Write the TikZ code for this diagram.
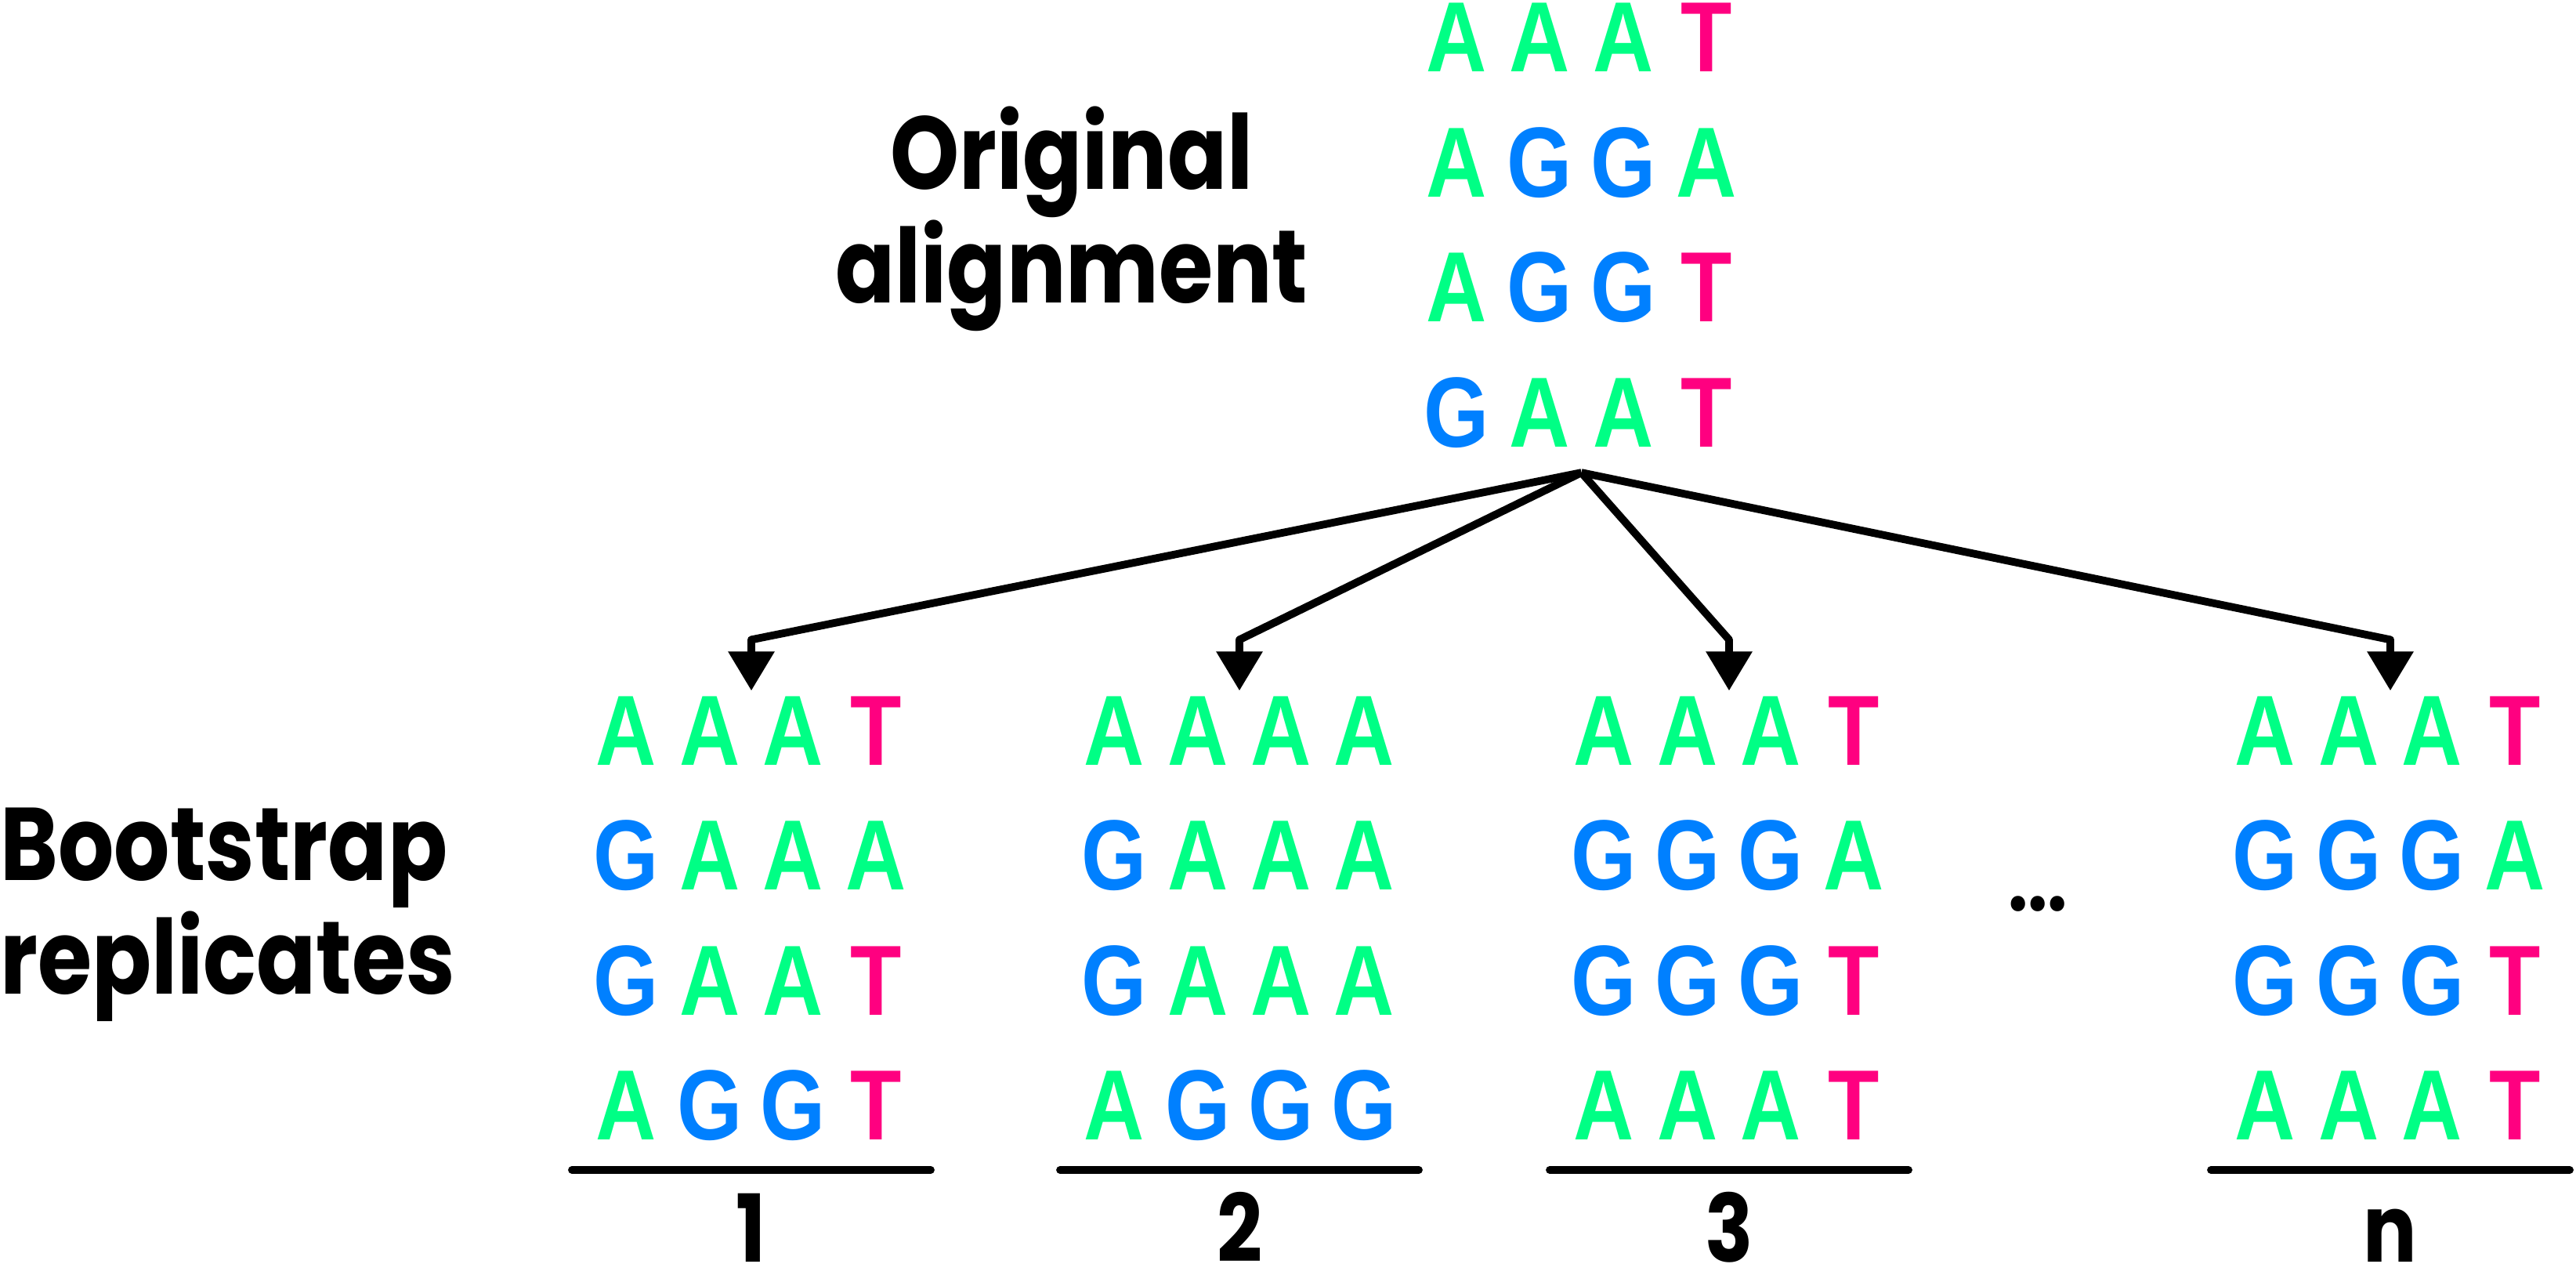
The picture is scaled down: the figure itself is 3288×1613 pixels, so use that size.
\documentclass[tikz,border=0pt]{standalone}
\usepackage{fontspec}
\usepackage{tikz}
\usetikzlibrary{arrows.meta,matrix}
\newfontfamily\seqfont{Liberation Sans}[FakeStretch=0.84]
\newfontfamily\headfont{Poppins}[FakeStretch=0.85]
\definecolor{baseA}{RGB}{0,255,133}
\definecolor{baseG}{RGB}{0,128,255}
\definecolor{baseT}{RGB}{255,0,128}
\newcommand{\bA}{\textcolor{baseA}{A}}
\newcommand{\bG}{\textcolor{baseG}{G}}
\newcommand{\bT}{\textcolor{baseT}{T}}
\tikzset{
  nucleotide/.style={inner sep=0pt,minimum width=1.063cm,text height=0.91cm,text depth=0pt,
    font=\seqfont\bfseries\fontsize{36.2pt}{36.2pt}\selectfont},
  seqblock/.style={matrix of nodes,inner sep=0pt,column sep=0pt,row sep=0.685cm,
    nodes={nucleotide}},
  headlabel/.style={font=\headfont\bfseries\fontsize{37.5pt}{36.7pt}\selectfont,inner sep=0pt},
  replabel/.style={font=\headfont\bfseries\fontsize{34pt}{34pt}\selectfont,inner sep=0pt,anchor=base},
  branch/.style={-{Triangle[length=5mm,width=5.7mm]},line width=2.8pt,line join=round,
    shorten >=0.3mm},
  rule/.style={line width=2.8pt,line cap=round}
}

\begin{document}
\begin{tikzpicture}[x=0.01cm,y=-0.01cm]
  \fill[white] (0,0) rectangle (3288,1613);
  \useasboundingbox (0,0) rectangle (3288,1613);

  % original alignment
  \matrix[seqblock] (orig) at (2018.5,285.5) {
    \bA & \bA & \bA & \bT \\
    \bA & \bG & \bG & \bA \\
    \bA & \bG & \bG & \bT \\
    \bG & \bA & \bA & \bT \\
  };
  \node[headlabel,align=center,anchor=base] (origlabel) at (1368,387) {Original\\alignment};

  % bootstrap replicates
  \matrix[seqblock] (rep1) at (959,1170) {
    \bA & \bA & \bA & \bT \\
    \bG & \bA & \bA & \bA \\
    \bG & \bA & \bA & \bT \\
    \bA & \bG & \bG & \bT \\
  };
  \matrix[seqblock] (rep2) at (1582,1170) {
    \bA & \bA & \bA & \bA \\
    \bG & \bA & \bA & \bA \\
    \bG & \bA & \bA & \bA \\
    \bA & \bG & \bG & \bG \\
  };
  \matrix[seqblock] (rep3) at (2207,1170) {
    \bA & \bA & \bA & \bT \\
    \bG & \bG & \bG & \bA \\
    \bG & \bG & \bG & \bT \\
    \bA & \bA & \bA & \bT \\
  };
  \matrix[seqblock] (repn) at (3051,1170) {
    \bA & \bA & \bA & \bT \\
    \bG & \bG & \bG & \bA \\
    \bG & \bG & \bG & \bT \\
    \bA & \bA & \bA & \bT \\
  };
  \node[headlabel,align=left,anchor=base west] (bootlabel) at (0,1268) {Bootstrap\\replicates};
  \node[replabel,font=\headfont\bfseries\fontsize{30pt}{30pt}\selectfont] (dots) at (2601,1162) {...};

  % resampling arrows
  \coordinate (hub) at ([yshift=-0.32cm]orig.south);
  \coordinate (knee1) at ([yshift=0.68cm]rep1.north);
  \coordinate (knee2) at ([yshift=0.68cm]rep2.north);
  \coordinate (knee3) at ([yshift=0.68cm]rep3.north);
  \coordinate (kneen) at ([yshift=0.68cm]repn.north);
  \draw[branch] (hub) -- (knee1) -- (rep1.north);
  \draw[branch] (hub) -- (knee2) -- (rep2.north);
  \draw[branch] (hub) -- (knee3) -- (rep3.north);
  \draw[branch] (hub) -- (kneen) -- (repn.north);

  % numbering
  \draw[rule] (730,1493) -- (1188,1493);
  \draw[rule] (1353,1493) -- (1811,1493);
  \draw[rule] (1978,1493) -- (2436,1493);
  \draw[rule] (2822,1493) -- (3280,1493);
  \node[replabel] (num1) at (959,1610) {1};
  \node[replabel] (num2) at (1582,1610) {2};
  \node[replabel] (num3) at (2207,1610) {3};
  \node[replabel] (numn) at (3051,1610) {n};
\end{tikzpicture}
\end{document}
